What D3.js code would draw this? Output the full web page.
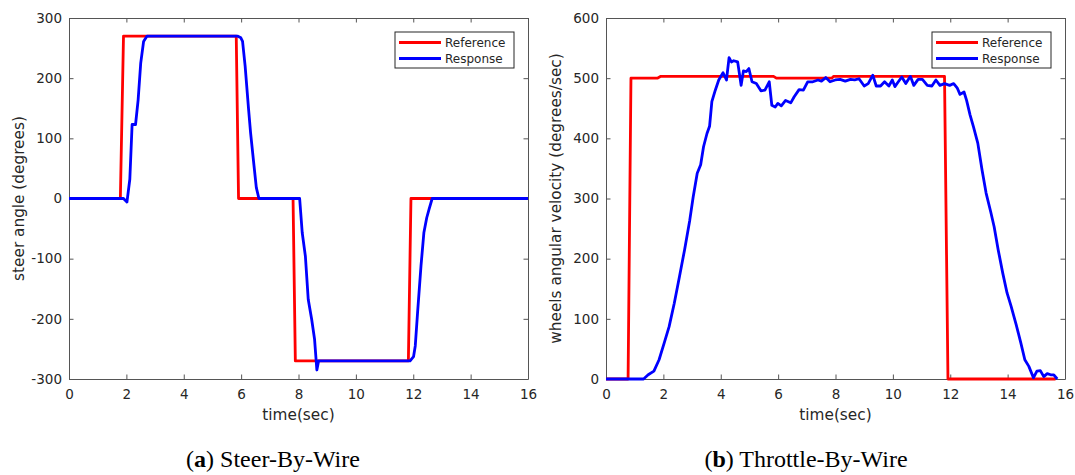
<!DOCTYPE html>
<html>
<head>
<meta charset="utf-8">
<script src="https://cdn.jsdelivr.net/npm/d3@7"></script>
<style>
    body { margin: 0; background: #fff; }
    svg text { font-family: "DejaVu Sans", sans-serif; fill: #262626; }
    .caption { font-family: "Liberation Serif", serif; fill: #000; }
</style>
</head>
<body>
<svg width="1075" height="475"></svg>
<script>
/* global d3 */
// steer-by-wire (left)
var steerRefTime = [0, 1.79, 1.9, 5.83, 5.91, 7.81, 7.89, 11.83, 11.92, 16];
var steerRefValue = [0, 0, 270, 270, 0, 0, -270, -270, 0, 0];
var steerRespTime = [0, 1.9, 2.02, 2.12, 2.2, 2.32, 2.41, 2.5, 2.6, 2.72, 5.87, 5.99, 6.05, 6.14, 6.26, 6.33, 6.45, 6.53, 6.62,
    8.04, 8.13, 8.24, 8.34, 8.46, 8.56, 8.64, 8.7, 11.89, 12.01, 12.07, 12.15, 12.27, 12.37, 12.47, 12.55, 12.66, 16];
var steerRespValue = [0, 0, -6, 32, 123, 123, 164, 225, 261, 270, 270, 267, 261, 220, 148, 109, 54, 18, 0,
    0, -57, -96, -168, -201, -234, -285, -270, -270, -263, -245, -190, -112, -57, -32, -18, 0, 0];

// throttle-by-wire (right)
var throttleRefTime = [0, 0.77, 0.87, 1.79, 1.91, 5.84, 5.94, 7.87, 7.93, 11.8, 11.92, 15.67];
var throttleRefValue = [0, 0, 500, 500, 503, 503, 500, 500, 503, 503, 0, 0];
var throttleRespTime = [0, 1.31, 1.47, 1.67, 1.85, 2.03, 2.2, 2.38, 2.56, 2.74, 2.92, 3.04, 3.18, 3.3, 3.4, 3.52, 3.61, 3.69,
    3.81, 3.93, 4.08, 4.2, 4.29, 4.37, 4.45, 4.59, 4.71, 4.79, 4.89, 4.98, 5.09, 5.24, 5.4, 5.54, 5.69, 5.78, 5.9, 5.99,
    6.11, 6.26, 6.44, 6.56, 6.73, 6.88, 7.03, 7.21, 7.39, 7.51, 7.66, 7.81, 7.99, 8.16, 8.34, 8.52, 8.67, 8.82, 9.0,
    9.14, 9.3, 9.42, 9.57, 9.71, 9.86, 9.98, 10.07, 10.19, 10.31, 10.45, 10.61, 10.73, 10.88, 11.03, 11.2, 11.36,
    11.5, 11.64, 11.8, 11.98, 12.12, 12.24, 12.34, 12.48, 12.57, 12.69, 12.81, 12.96, 13.11, 13.25, 13.41, 13.53,
    13.67, 13.83, 13.98, 14.12, 14.3, 14.46, 14.6, 14.74, 14.9, 15.02, 15.14, 15.26, 15.38, 15.5, 15.61, 15.73];
var throttleRespValue = [0, 0, 7, 13, 32, 60, 87, 126, 170, 215, 264, 303, 342, 356, 386, 408, 420, 461,
    480, 497, 509, 497, 534, 527, 529, 527, 488, 512, 511, 516, 494, 491, 479, 480, 494, 455, 452, 458,
    454, 463, 459, 469, 481, 480, 494, 494, 497, 495, 501, 494, 497, 498, 495, 498, 497, 499, 487,
    491, 505, 487, 487, 494, 487, 497, 486, 494, 502, 491, 503, 488, 498, 498, 488, 487,
    497, 488, 491, 488, 491, 484, 473, 477, 463, 439, 419, 392, 347, 309, 278, 253,
    215, 176, 143, 121, 90, 60, 32, 21, 2, 13, 14, 4, 9, 7, 7, 0];

var xTicks = [0, 2, 4, 6, 8, 10, 12, 14, 16];
var steerTicks = [-300, -200, -100, 0, 100, 200, 300];
var throttleTicks = [0, 100, 200, 300, 400, 500, 600];
var seriesNames = ["Reference", "Response"];
var seriesColors = ["#ff0000", "#0000ff"];

var svg = d3.select("svg");
svg.append("rect").attr("width", 1075).attr("height", 475).attr("fill", "#fff");

function toPoints(times, values) {
    return times.map(function (t, i) { return [t, values[i]]; });
}

// plain hyphen for negatives, like the original figure
function plainNumber(d) {
    return String(d);
}

function drawPanel(left, right, top, bottom, yDomain, yTicks, yLabel, ref, resp) {
    var xScale = d3.scaleLinear().domain([0, 16]).range([left, right]);
    var yScale = d3.scaleLinear().domain(yDomain).range([bottom, top]);
    var tickLen = 4.5;
    var g = svg.append("g");

    // axes (ticks point inwards, box on)
    g.append("g").attr("transform", "translate(0," + bottom + ")")
        .call(d3.axisBottom(xScale).tickValues(xTicks).tickSize(-tickLen).tickPadding(10).tickSizeOuter(0).tickFormat(plainNumber));
    g.append("g").attr("transform", "translate(0," + top + ")")
        .call(d3.axisTop(xScale).tickValues(xTicks).tickSize(-tickLen).tickFormat("").tickSizeOuter(0));
    g.append("g").attr("transform", "translate(" + left + ",0)")
        .call(d3.axisLeft(yScale).tickValues(yTicks).tickSize(-tickLen).tickPadding(7).tickSizeOuter(0).tickFormat(plainNumber));
    g.append("g").attr("transform", "translate(" + right + ",0)")
        .call(d3.axisRight(yScale).tickValues(yTicks).tickSize(-tickLen).tickFormat("").tickSizeOuter(0));

    g.selectAll(".domain").attr("stroke", "#555");
    g.selectAll(".tick line").attr("stroke", "#555");
    g.selectAll(".tick text").attr("fill", "#262626")
        .style("font-family", "DejaVu Sans").style("font-size", "13.5px");

    var line = d3.line()
        .x(function (d) { return xScale(d[0]); })
        .y(function (d) { return yScale(d[1]); });

    [ref, resp].forEach(function (pts, i) {
        g.append("path").datum(pts)
            .attr("d", line)
            .attr("fill", "none")
            .attr("stroke", seriesColors[i])
            .attr("stroke-width", 2.8)
            .attr("stroke-linejoin", "round");
    });

    g.append("text")
        .attr("x", (left + right) / 2).attr("y", 420)
        .attr("text-anchor", "middle").style("font-size", "15.3px")
        .text("time(sec)");
    g.append("text")
        .attr("transform", "translate(" + (left - 45) + "," + ((top + bottom) / 2) + ") rotate(-90)")
        .attr("text-anchor", "middle").style("font-size", "15.3px")
        .text(yLabel);

    // legend
    var lg = g.append("g").attr("transform", "translate(" + (right - 133) + "," + (top + 14) + ")");
    lg.append("rect").attr("width", 119).attr("height", 36)
        .attr("fill", "#fff").attr("stroke", "#262626").attr("stroke-width", 1);
    seriesNames.forEach(function (name, i) {
        var yy = 10.5 + i * 16;
        lg.append("line").attr("x1", 4).attr("x2", 46).attr("y1", yy).attr("y2", yy)
            .attr("stroke", seriesColors[i]).attr("stroke-width", 2.8);
        lg.append("text").attr("x", 50).attr("y", yy + 4.3)
            .style("font-size", "12px").text(name);
    });
}

drawPanel(69, 528, 18, 379, [-300, 300], steerTicks, "steer angle (degrees)",
    toPoints(steerRefTime, steerRefValue), toPoints(steerRespTime, steerRespValue));
drawPanel(606, 1065, 18, 379, [0, 600], throttleTicks, "wheels angular velocity (degrees/sec)",
    toPoints(throttleRefTime, throttleRefValue), toPoints(throttleRespTime, throttleRespValue));

// captions
var captions = [{x: 273, label: "a", rest: " Steer-By-Wire"}, {x: 806, label: "b", rest: " Throttle-By-Wire"}];
captions.forEach(function (c) {
    var t = svg.append("text").attr("class", "caption")
        .attr("x", c.x).attr("y", 467).attr("text-anchor", "middle")
        .style("font-size", "24px");
    t.append("tspan").text("(");
    t.append("tspan").style("font-weight", "bold").text(c.label);
    t.append("tspan").text(")" + c.rest);
});
</script>
</body>
</html>
